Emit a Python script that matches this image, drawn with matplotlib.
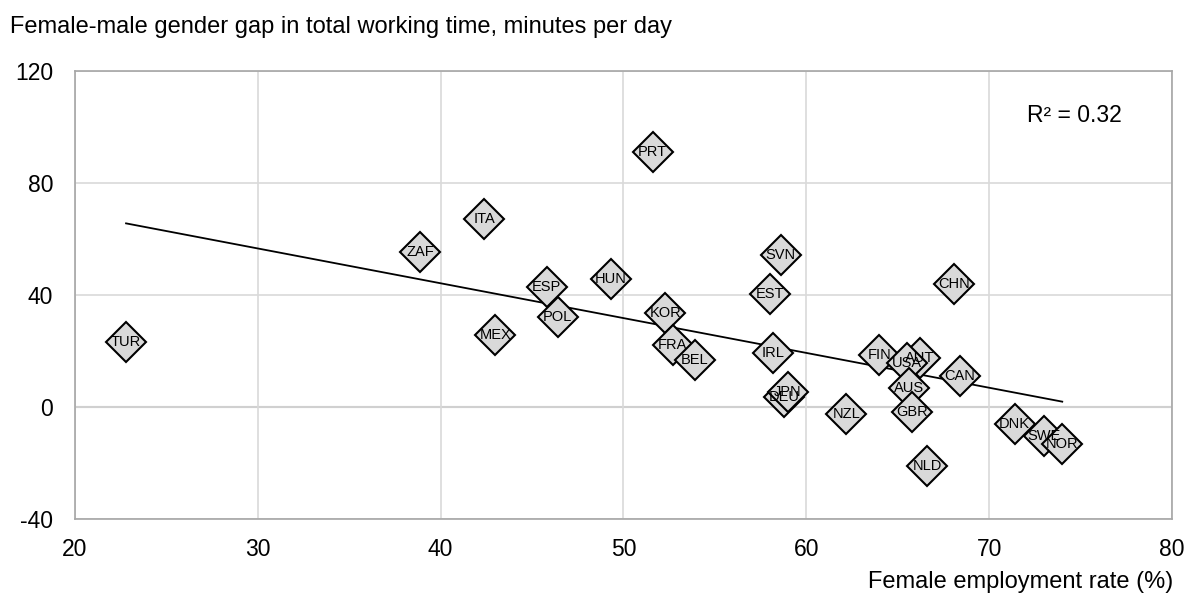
import numpy as np
import matplotlib.pyplot as plt

plt.rcParams['font.family'] = ['Liberation Sans', 'DejaVu Sans']
plt.rcParams['axes.unicode_minus'] = False

# Data
countries = ["TUR", "ZAF", "ITA", "MEX", "ESP", "POL", "HUN", "PRT", "KOR", "FRA",
             "BEL", "EST", "SVN", "IRL", "DEU", "JPN", "NZL", "FIN", "AUT", "USA",
             "AUS", "GBR", "NLD", "CHN", "CAN", "DNK", "SWE", "NOR"]
employment = [22.8, 38.9, 42.4, 43.0, 45.8, 46.4, 49.3, 51.6, 52.3, 52.7,
              53.9, 58.0, 58.6, 58.2, 58.8, 59.0, 62.2, 64.0, 66.2, 65.5,
              65.6, 65.8, 66.6, 68.1, 68.4, 71.4, 73.0, 74.0]
gap = [23.2, 55.4, 67.1, 25.7, 42.9, 32.1, 45.7, 91.1, 33.6, 22.1,
       16.8, 40.4, 54.3, 19.3, 3.6, 5.4, -2.5, 18.6, 17.5, 15.7,
       6.8, -1.8, -21.1, 43.9, 11.1, -6.1, -10.4, -13.2]
r2_text = "R² = 0.32"

x = np.array(employment)
y = np.array(gap)

fig = plt.figure(figsize=(11.88, 5.93), dpi=100)
ax = fig.add_axes([0.063, 0.125, 0.9235, 0.755])

# grid and frame
ax.set_xlim(20, 80)
ax.set_ylim(-40, 120)
ax.set_xticks(np.arange(20, 81, 10))
ax.set_yticks(np.arange(-40, 121, 40))
ax.grid(True, color="#d9d9d9", lw=1.2, zorder=0)
ax.axhline(0, color="#a6a6a6", lw=1.5, zorder=1)
for s in ax.spines.values():
    s.set_color("#a6a6a6")
    s.set_linewidth(1.2)
ax.tick_params(length=0, labelsize=16.5)
ax.tick_params(axis="y", pad=15.5)
ax.tick_params(axis="x", pad=14)

# trend line (least squares on the points)
slope, icpt = np.polyfit(x, y, 1)
xs = np.array([x.min(), x.max()])
ax.plot(xs, slope * xs + icpt, color="black", lw=1.3, zorder=2)

# markers with labels
ax.plot(x, y, ls="none", marker="D", markersize=20.5, markerfacecolor="#d9d9d9",
        markeredgecolor="black", markeredgewidth=1.5, zorder=3)
for c, xi, yi in zip(countries, x, y):
    ax.text(xi, yi, c, ha="center", va="center", fontsize=10.5, zorder=4)

ax.text(74.65, 104.3, r2_text, ha="center", va="center", fontsize=16.5)

fig.text(0.008, 0.944, "Female-male gender gap in total working time, minutes per day",
         ha="left", va="baseline", fontsize=17)
fig.text(0.988, 0.009, "Female employment rate (%)", ha="right", va="baseline", fontsize=17)

fig.savefig("out.png", dpi=100)
